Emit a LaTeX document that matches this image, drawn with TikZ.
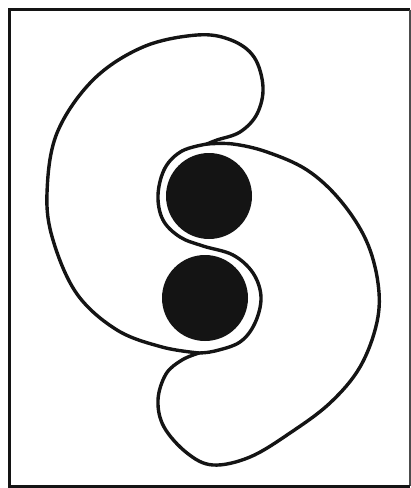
\documentclass[tikz,border=0pt]{standalone}
\usepackage{tikz}

\tikzset{
  outline/.style={draw=black!92, line width=3.4pt, line cap=round, line join=round},
  blob/.style={fill=black!92},
}

\begin{document}
\begin{tikzpicture}[x=1pt, y=-1pt]
  \useasboundingbox (0,0) rectangle (411,488);

  % frame
  \draw[line width=3.5pt, black!92] (9.5,487) -- (9.5,9.5) -- (410,9.5);
  \draw[line width=1.2pt, black!70] (410,9.5) -- (410,486);
  \draw[line width=2.5pt, black!92] (8,486.5) -- (410,486.5);

  % necks
  \coordinate (topneck) at (207,144);
  \coordinate (botneck) at (199,353);

  % the two blobs
  \fill[blob] (209,196) circle (43);
  \fill[blob] (205,298) circle (43);

  % shared S-curve
  \draw[outline] plot[smooth, tension=0.6] coordinates {
    (207,144) (182,151) (165,168) (158,195) (163,220) (180,237)
    (203,246) (233,255) (253,273) (261,297) (255,323) (240,342)
    (215,351) (199,353)};

  % left half, upper lobe
  \draw[outline] plot[smooth, tension=0.6] coordinates {
    (199,353) (162,347) (117,330) (77,294) (53,240) (47,193)
    (57,133) (93,80) (143,47) (197,35) (231,40) (254,57)
    (263,87) (257,114) (240,132) (217,140) (207,144)};

  % right half, lower lobe
  \draw[outline] plot[smooth, tension=0.6] coordinates {
    (207,144) (233,144) (267,152) (307,170) (340,200) (366,240)
    (378,283) (377,322) (360,367) (330,403) (290,433) (250,457)
    (213,465) (187,453) (164,427) (158,400) (166,374) (182,360)
    (199,353)};
\end{tikzpicture}
\end{document}
